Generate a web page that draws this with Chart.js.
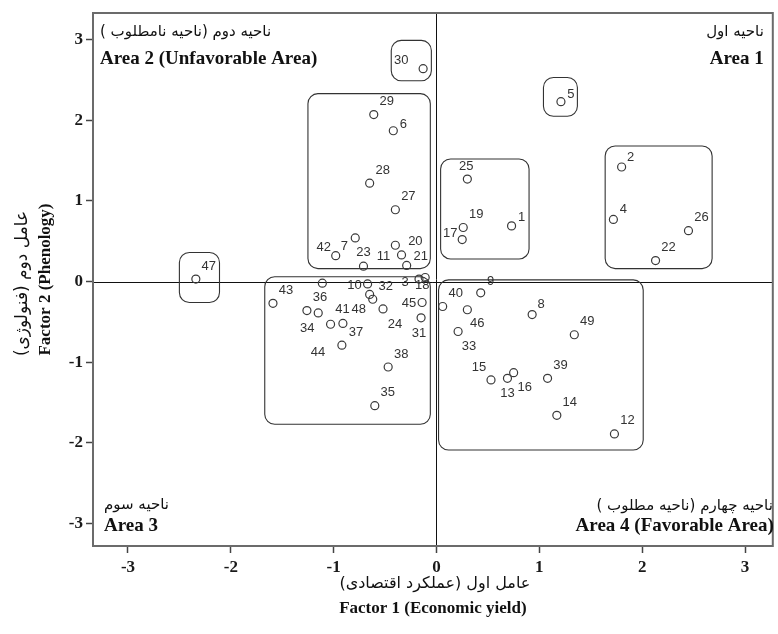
<!DOCTYPE html>
<html>
<head>
<meta charset="utf-8">
<script src="https://cdn.jsdelivr.net/npm/chart.js@4.4.0/dist/chart.umd.min.js"></script>
<style>
  html, body { margin: 0; padding: 0; background: #fff; }
  #wrap { width: 778px; height: 634px; }
</style>
</head>
<body>
<div id="wrap"><canvas id="chart" width="778" height="634"></canvas></div>
<script>
// sample numbers, factor scores
const ids = ['1','2','3','4','5','6','7','8','9','10','11','12','13','14','15','16','17','18','19','20',
             '21','22','23','24','25','26','27','28','29','30','31','32','33','34','35','36','37','38','39','40',
             '41','42','43','44','45','46','47','48','49',''];
const factor1 = [0.73, 1.80, -0.17, 1.72, 1.21, -0.42, -0.79, 0.93, 0.43, -0.67, -0.34, 1.73, 0.69, 1.17, 0.53, 0.75, 0.25, -0.11, 0.26, -0.40,
                 -0.29, 2.13, -0.71, -0.52, 0.30, 2.45, -0.40, -0.65, -0.61, -0.13, -0.15, -0.65, 0.21, -1.15, -0.60, -1.26, -0.91, -0.47, 1.08, 0.06,
                 -1.03, -0.98, -1.59, -0.92, -0.14, 0.30, -2.34, -0.62, 1.34, -1.11];
const factor2 = [0.69, 1.42, 0.03, 0.77, 2.23, 1.87, 0.54, -0.41, -0.14, -0.03, 0.33, -1.89, -1.20, -1.66, -1.22, -1.13, 0.52, 0.05, 0.67, 0.45,
                 0.20, 0.26, 0.19, -0.34, 1.27, 0.63, 0.89, 1.22, 2.07, 2.64, -0.45, -0.16, -0.62, -0.39, -1.54, -0.36, -0.52, -1.06, -1.20, -0.31,
                 -0.53, 0.32, -0.27, -0.79, -0.26, -0.35, 0.03, -0.22, -0.66, -0.02];
const xTicks = [-3, -2, -1, 0, 1, 2, 3];
const yTicks = [-3, -2, -1, 0, 1, 2, 3];
// grouping frames, [x1, y1, x2, y2] in factor units
const groupBoxes = [
  [-0.44, 2.99, -0.05, 2.49],
  [1.04, 2.53, 1.37, 2.05],
  [-1.25, 2.33, -0.06, 0.16],
  [-2.50, 0.36, -2.11, -0.26],
  [0.04, 1.52, 0.90, 0.28],
  [1.64, 1.68, 2.68, 0.16],
  [-1.67, 0.06, -0.06, -1.77],
  [0.02, 0.02, 2.01, -2.09]
];

// where each number sits around its circle (px, text centre)
const labelOffset = {
  '30': [-22, -8], '6': [10, -6], '5': [10, -7], '7': [-11, 8], '42': [-12, -8], '23': [0, -14],
  '20': [20, -4], '11': [-18, 2], '21': [14, -9], '25': [-1, -13], '17': [-12, -6], '1': [10, -8],
  '2': [9, -10], '4': [10, -10], '34': [-11, 15], '41': [12, -15], '48': [-14, 10], '37': [13, 9],
  '44': [-24, 7], '10': [-13, 1], '32': [16, -8], '45': [-13, 1], '24': [12, 15], '31': [-2, 16],
  '9': [10, -11], '46': [10, 14], '33': [11, 15], '8': [9, -10], '15': [-12, -12], '13': [0, 15],
  '16': [11, 15], '3': [-14, 3], '18': [-3, 8]
};

const serif = '"Liberation Serif", "Times New Roman", serif';
const farsi = '"DejaVu Sans", "Noto Sans", sans-serif';

const points = factor1.map((v, i) => ({ x: v, y: factor2[i] }));

const decor = {
  id: 'decor',
  beforeDatasetsDraw(chart) {
    const { ctx, chartArea: a, scales: { x, y } } = chart;
    ctx.save();
    // reference lines through the origin
    ctx.strokeStyle = '#111';
    ctx.lineWidth = 1;
    ctx.beginPath();
    const x0 = Math.round(x.getPixelForValue(0)) + 0.5;
    const y0 = Math.round(y.getPixelForValue(0)) + 0.5;
    ctx.moveTo(x0, a.top); ctx.lineTo(x0, a.bottom);
    ctx.moveTo(a.left, y0); ctx.lineTo(a.right, y0);
    ctx.stroke();
    // rounded group frames
    ctx.strokeStyle = '#333';
    ctx.lineWidth = 1.1;
    groupBoxes.forEach(b => {
      const l = x.getPixelForValue(b[0]), t = y.getPixelForValue(b[1]);
      const r = x.getPixelForValue(b[2]), btm = y.getPixelForValue(b[3]);
      ctx.beginPath();
      ctx.roundRect(l, t, r - l, btm - t, 10);
      ctx.stroke();
    });
    ctx.restore();
  },
  afterDatasetsDraw(chart) {
    const { ctx } = chart;
    const meta = chart.getDatasetMeta(0);
    ctx.save();
    ctx.font = '13px "Liberation Sans", Arial, sans-serif';
    ctx.fillStyle = '#333';
    ctx.textAlign = 'center';
    ctx.textBaseline = 'middle';
    meta.data.forEach((pt, i) => {
      const id = ids[i];
      if (!id) return;
      const off = labelOffset[id] || [13, -13];
      ctx.fillText(id, pt.x + off[0], pt.y + off[1]);
    });
    ctx.restore();
  },
  afterDraw(chart) {
    const { ctx, chartArea: a } = chart;
    ctx.save();
    // plot frame
    ctx.strokeStyle = '#6b6b6b';
    ctx.lineWidth = 2;
    ctx.strokeRect(a.left, a.top, a.right - a.left, a.bottom - a.top);

    ctx.fillStyle = '#111';
    ctx.textBaseline = 'middle';
    const fa = (txt, size, px, py, align) => {
      ctx.direction = 'rtl';
      ctx.font = size + 'px ' + farsi;
      ctx.textAlign = align;
      ctx.fillText(txt, px, py);
      ctx.direction = 'ltr';
    };
    const en = (txt, size, px, py, align) => {
      ctx.font = 'bold ' + size + 'px ' + serif;
      ctx.textAlign = align;
      ctx.fillText(txt, px, py);
    };
    // quadrant captions
    fa('ناحیه دوم (ناحیه نامطلوب )', 15, a.left + 7, a.top + 19, 'left');
    en('Area 2 (Unfavorable Area)', 19, a.left + 7, a.top + 46, 'left');
    fa('ناحیه اول', 15, a.right - 9, a.top + 19, 'right');
    en('Area 1', 19, a.right - 9, a.top + 46, 'right');
    fa('ناحیه سوم', 15, a.left + 11, a.bottom - 41, 'left');
    en('Area 3', 19, a.left + 11, a.bottom - 20, 'left');
    fa('ناحیه چهارم (ناحیه مطلوب )', 15, a.right, a.bottom - 40, 'right');
    en('Area 4 (Favorable Area)', 19, a.right + 1, a.bottom - 20, 'right');

    // axis titles
    const cx = (a.left + a.right) / 2;
    fa('عامل اول (عملکرد اقتصادی)', 16, cx + 2, 584, 'center');
    en('Factor 1 (Economic yield)', 17, cx, 609, 'center');

    const cy = (a.top + a.bottom) / 2;
    ctx.translate(0, cy);
    ctx.rotate(-Math.PI / 2);
    fa('عامل دوم (فنولوژی)', 17, -4, 23, 'center');
    en('Factor 2 (Phenology)', 17, 0, 46, 'center');
    ctx.restore();
  }
};

const tickFont = { family: serif, size: 17, weight: 'bold' };

new Chart(document.getElementById('chart').getContext('2d'), {
  type: 'scatter',
  data: {
    datasets: [{
      data: points,
      pointRadius: 4,
      pointHoverRadius: 4,
      pointBorderWidth: 1.2,
      pointBorderColor: '#3a3a3a',
      pointBackgroundColor: 'rgba(255,255,255,0)'
    }]
  },
  options: {
    responsive: false,
    animation: false,
    events: [],
    layout: { padding: { top: 13, right: 2, left: 0, bottom: 0 } },
    plugins: { legend: { display: false }, tooltip: { enabled: false } },
    scales: {
      x: {
        type: 'linear',
        min: -3.34,
        max: 3.27,
        afterBuildTicks: s => { s.ticks = xTicks.map(v => ({ value: v })); },
        afterFit: s => { s.height = 88; s.paddingLeft = 0; s.paddingRight = 0; },
        grid: { drawOnChartArea: false, tickLength: 7, tickColor: '#444', tickWidth: 1.5 },
        border: { display: false },
        ticks: { font: tickFont, color: '#1a1a1a', padding: 4, maxRotation: 0 }
      },
      y: {
        type: 'linear',
        min: -3.28,
        max: 3.33,
        afterBuildTicks: s => { s.ticks = yTicks.map(v => ({ value: v })); },
        afterFit: s => { s.width = 93; s.paddingTop = 0; s.paddingBottom = 0; },
        grid: { drawOnChartArea: false, tickLength: 7, tickColor: '#444', tickWidth: 1.5 },
        border: { display: false },
        ticks: { font: tickFont, color: '#1a1a1a', padding: 3 }
      }
    }
  },
  plugins: [decor]
});
</script>
</body>
</html>
